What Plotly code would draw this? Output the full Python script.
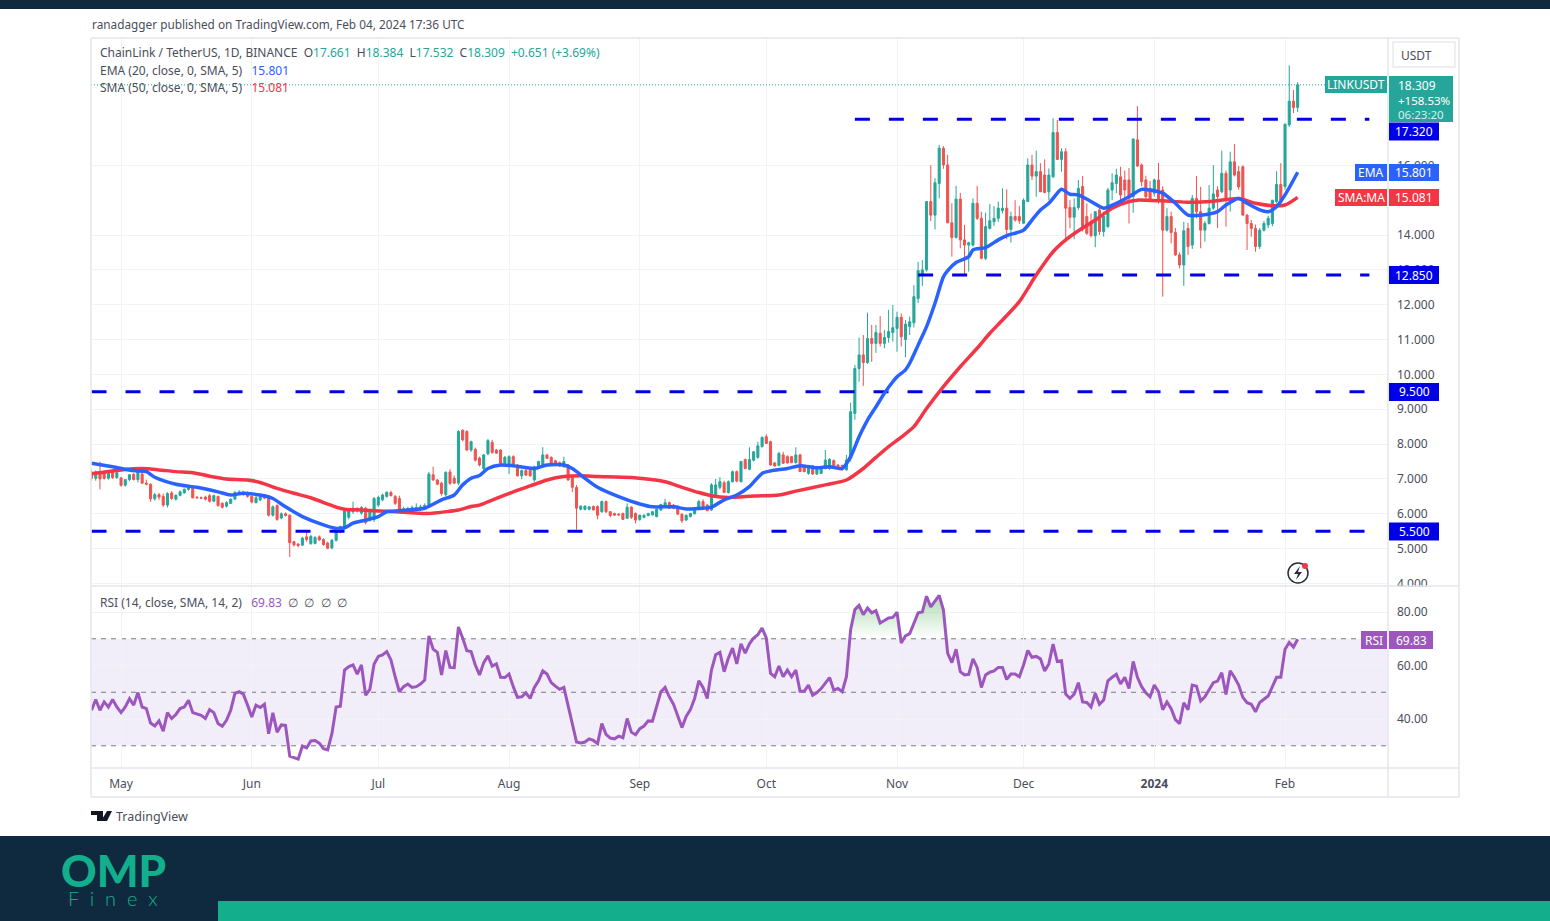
import pandas as pd
import plotly.graph_objects as go

W, H = 1550, 921

# daily candles, first one is 24 Apr 2023, last one 4 Feb 2024
first_day = "2023-04-24"

opens = [
    7.20,7.02,7.20,7.20,7.02,7.19,7.04,7.03,6.82,6.98,
    7.13,6.98,7.14,6.88,6.85,6.43,6.55,6.50,6.25,6.60,
    6.42,6.53,6.60,6.70,6.74,6.48,6.46,6.48,6.52,6.36,
    6.50,6.30,6.22,6.30,6.42,6.60,6.62,6.60,6.50,6.32,
    6.40,6.49,6.44,5.96,6.24,5.88,6.00,5.96,5.20,5.13,
    5.10,5.34,5.14,5.15,5.34,5.26,5.16,5.02,5.24,5.49,
    5.62,5.90,6.06,6.16,6.02,6.16,5.84,5.84,6.25,6.40,
    6.50,6.61,6.50,6.44,6.07,6.08,6.10,6.15,6.12,6.16,
    6.22,7.12,6.97,6.88,6.55,7.20,7.02,6.88,8.40,8.36,
    7.83,7.85,7.60,7.30,7.72,8.05,7.83,7.83,7.45,7.40,
    7.64,7.40,7.09,7.24,7.24,6.97,7.35,7.40,7.69,7.62,
    7.52,7.47,7.35,7.40,7.06,6.76,6.13,6.13,6.13,6.21,
    6.21,6.06,6.35,6.06,6.01,5.99,6.01,5.87,6.19,6.01,
    5.84,5.90,5.95,5.97,5.92,6.11,6.20,6.32,6.25,6.22,
    5.99,5.82,5.92,6.00,6.16,6.35,6.25,6.11,6.54,6.76,
    6.89,6.61,6.92,7.21,6.92,7.56,7.28,7.54,7.62,7.93,
    8.21,8.07,7.46,7.39,7.69,7.64,7.64,7.47,7.69,7.35,
    7.16,7.37,7.14,7.16,7.30,7.30,7.53,7.40,7.39,7.26,
    7.59,8.88,10.17,10.56,10.34,11.03,10.89,11.18,10.89,11.06,
    11.20,11.32,11.64,11.00,11.37,11.48,12.18,12.85,13.00,14.96,
    14.57,15.48,16.49,16.01,14.35,13.93,15.03,13.86,13.71,13.71,
    14.91,14.48,13.33,14.19,14.38,14.48,14.70,14.77,14.16,14.53,
    14.53,14.34,14.96,16.01,15.69,15.82,15.72,15.24,15.67,16.94,
    16.17,16.39,14.79,14.51,14.79,15.39,14.53,14.38,13.98,14.72,
    14.10,14.24,15.29,15.48,15.67,15.58,15.58,15.10,16.73,16.01,
    15.58,15.34,15.20,15.58,15.29,14.14,14.53,14.07,13.43,13.14,
    14.19,13.71,15.05,14.67,14.14,14.33,14.77,15.29,15.24,15.77,
    15.29,16.10,15.82,15.96,14.57,14.33,14.19,13.67,14.14,14.29,
    14.33,14.96,15.45,15.39,17.16,17.84,17.661,
]
highs = [
    7.26,7.24,7.50,7.24,7.22,7.22,7.22,7.06,7.00,7.14,
    7.18,7.24,7.20,6.98,6.87,6.60,6.60,6.58,6.62,6.65,
    6.56,6.67,6.73,6.78,6.78,6.50,6.50,6.52,6.57,6.55,
    6.52,6.33,6.36,6.44,6.66,6.68,6.66,6.64,6.53,6.50,
    6.52,6.54,6.48,6.24,6.27,6.04,6.04,5.98,5.22,5.16,
    5.34,5.48,5.40,5.36,5.38,5.30,5.20,5.28,5.52,5.66,
    6.16,6.15,6.35,6.18,6.22,6.20,6.10,6.48,6.52,6.58,
    6.64,6.66,6.54,6.52,6.20,6.20,6.24,6.30,6.26,6.30,
    7.20,7.35,7.00,6.92,7.22,7.28,7.10,8.40,8.42,8.40,
    8.10,7.90,7.64,7.72,8.15,8.12,7.86,7.86,7.66,7.68,
    7.68,7.43,7.27,7.28,7.28,7.38,7.52,7.91,7.72,7.65,
    7.55,7.50,7.64,7.43,7.10,6.83,6.24,6.24,6.22,6.24,
    6.24,6.38,6.38,6.08,6.03,6.02,6.03,6.30,6.22,6.04,
    5.97,5.98,6.03,6.08,6.15,6.28,6.43,6.35,6.28,6.24,
    6.01,5.98,6.03,6.17,6.40,6.42,6.28,6.88,7.00,7.05,
    6.95,6.96,7.24,7.24,7.52,7.58,7.91,7.80,8.07,8.22,
    8.28,8.10,7.48,7.78,7.78,7.68,7.66,7.91,7.72,7.38,
    7.40,7.40,7.30,7.36,7.83,7.60,7.56,7.42,7.41,7.69,
    9.19,10.27,11.06,11.13,11.77,11.42,11.42,11.67,11.27,11.85,
    11.99,11.80,11.75,11.56,11.66,12.56,13.23,13.28,14.96,16.00,
    15.63,16.58,16.55,16.30,14.91,15.41,15.21,14.29,13.81,15.05,
    15.41,14.67,14.64,14.89,14.83,14.96,15.34,15.31,14.67,15.00,
    14.83,15.05,16.20,16.30,16.42,16.06,16.17,15.91,17.35,17.30,
    16.49,16.49,15.00,15.05,15.58,15.69,14.91,14.62,14.67,14.80,
    14.67,15.35,15.77,15.90,15.96,15.85,15.92,16.78,17.70,16.05,
    15.70,15.55,15.62,16.07,15.40,14.77,14.67,14.20,13.50,14.38,
    14.35,15.15,15.69,15.38,14.40,15.43,16.00,15.40,16.42,15.85,
    16.39,16.61,15.98,16.00,14.60,14.43,14.30,14.20,14.40,14.55,
    15.00,15.83,16.06,17.20,18.87,18.16,18.384,
]
lows = [
    6.95,6.95,6.70,6.98,6.98,7.00,7.00,6.78,6.78,6.94,
    6.96,6.90,6.86,6.82,6.35,6.38,6.40,6.20,6.18,6.40,
    6.38,6.50,6.58,6.66,6.44,6.44,6.43,6.38,6.32,6.34,
    6.20,6.15,6.18,6.28,6.40,6.55,6.52,6.46,6.30,6.30,
    6.36,6.42,5.92,5.92,5.80,5.84,5.92,4.76,5.06,5.04,
    5.08,5.20,5.12,5.12,5.22,5.08,4.98,4.98,5.20,5.44,
    5.56,5.84,6.00,6.04,5.98,5.70,5.78,5.76,6.20,6.36,
    6.46,6.50,6.25,6.04,6.03,6.04,6.06,6.12,6.08,6.14,
    6.18,6.95,6.82,6.52,6.50,6.82,6.86,6.82,8.08,7.80,
    7.78,7.50,7.36,7.26,7.68,7.72,7.72,7.42,7.40,7.14,
    7.36,7.07,6.99,7.08,7.06,6.92,7.32,7.36,7.58,7.42,
    7.36,7.35,7.32,6.95,6.62,5.55,6.10,6.10,6.10,6.10,
    5.84,6.03,6.02,5.90,5.94,5.94,5.82,5.85,5.85,5.72,
    5.80,5.87,5.93,5.95,5.90,6.08,6.18,6.14,6.13,5.98,
    5.73,5.80,5.90,5.98,6.14,6.18,6.08,6.08,6.50,6.70,
    6.60,6.58,6.90,6.90,6.90,7.28,7.25,7.50,7.58,7.90,
    8.00,7.38,7.36,7.36,7.43,7.44,7.45,7.44,7.20,7.19,
    7.12,7.12,7.12,7.14,7.28,7.26,7.30,7.28,7.24,7.24,
    7.50,8.70,9.79,9.67,10.30,10.36,10.62,10.80,10.75,10.91,
    10.94,10.65,10.80,10.49,11.13,11.35,12.05,12.54,12.95,14.40,
    14.16,15.05,15.90,14.34,13.38,13.90,13.62,12.85,12.95,13.67,
    14.43,13.30,13.28,14.16,14.26,14.38,14.62,13.88,13.78,14.38,
    14.32,14.32,14.96,15.58,15.10,15.24,15.20,15.00,15.63,16.15,
    15.82,13.90,14.19,13.88,14.72,14.10,14.00,13.93,13.65,14.00,
    13.95,14.20,15.00,15.20,14.95,15.05,14.33,14.64,15.95,15.40,
    15.00,14.95,15.10,14.90,12.23,14.10,13.76,13.40,13.04,12.54,
    13.43,13.60,14.48,13.62,13.81,14.30,14.72,14.20,15.20,14.24,
    14.67,15.68,15.30,14.57,13.57,13.95,13.52,13.60,14.10,14.20,
    14.25,14.90,15.00,15.30,17.10,17.50,17.532,
]
closes = [
    7.02,7.20,7.00,7.02,7.19,7.04,7.18,6.82,6.98,7.12,
    6.98,7.20,6.88,6.85,6.43,6.55,6.48,6.25,6.58,6.44,
    6.53,6.63,6.70,6.76,6.46,6.46,6.45,6.42,6.36,6.52,
    6.24,6.19,6.32,6.42,6.61,6.62,6.55,6.50,6.34,6.46,
    6.49,6.45,5.96,6.20,5.84,6.00,5.95,5.17,5.11,5.09,
    5.30,5.26,5.35,5.32,5.25,5.12,5.01,5.24,5.49,5.63,
    6.09,6.08,6.16,6.08,6.18,5.75,6.06,6.44,6.47,6.54,
    6.62,6.52,6.30,6.07,6.14,6.15,6.18,6.18,6.20,6.24,
    7.14,6.97,6.85,6.58,7.19,6.87,6.88,8.36,8.12,7.83,
    8.07,7.54,7.40,7.69,8.10,7.76,7.74,7.45,7.62,7.64,
    7.40,7.09,7.24,7.11,7.09,7.35,7.50,7.69,7.59,7.45,
    7.40,7.38,7.50,6.97,6.76,6.16,6.22,6.22,6.20,6.11,
    5.96,6.35,6.06,5.95,5.96,5.97,5.84,6.19,5.90,5.82,
    5.96,5.96,6.01,6.06,6.13,6.27,6.32,6.16,6.16,5.99,
    5.80,5.96,6.01,6.16,6.35,6.20,6.09,6.83,6.83,6.92,
    6.61,6.92,7.21,6.94,7.50,7.30,7.56,7.78,7.95,8.19,
    8.02,7.40,7.37,7.73,7.45,7.46,7.47,7.69,7.21,7.21,
    7.38,7.14,7.28,7.35,7.54,7.56,7.32,7.30,7.27,7.54,
    8.93,10.17,10.56,10.34,11.03,10.89,11.20,10.89,11.06,11.23,
    11.34,11.64,11.08,11.44,11.51,12.23,12.98,13.00,14.96,14.57,
    15.50,16.49,16.01,14.35,13.93,15.03,13.86,13.71,13.78,14.91,
    14.48,13.33,14.24,14.41,14.48,14.77,14.77,14.16,14.53,14.43,
    14.41,15.00,16.01,15.69,15.82,15.24,15.22,15.72,16.94,16.17,
    16.39,14.77,14.51,14.79,15.34,14.24,14.05,13.98,14.67,14.10,
    14.53,15.29,15.50,15.72,15.15,15.29,15.05,16.75,15.98,15.53,
    15.10,15.00,15.58,15.00,14.14,14.53,14.07,13.43,13.14,14.12,
    13.67,15.05,14.67,14.14,14.33,14.77,15.18,15.10,15.77,15.00,
    16.10,15.72,15.38,14.57,14.33,14.19,13.67,14.14,14.33,14.48,
    15.00,15.45,15.00,17.18,17.84,17.66,18.309,
]

# moving averages read at these candle numbers
ema_idx = [0,5,10,13,15,20,25,30,33,36,41,43,46,50,55,58,60,62,65,68,70,73,79,83,86,88,90,92,94,
           97,100,105,108,112,114,117,120,125,130,133,138,141,145,147,150,153,156,159,161,165,168,
           172,175,178,180,182,184,186,188,190,191,193,194,196,198,200,202,203,205,208,209,212,215,
           217,221,223,225,227,229,230,232,234,237,240,243,246,249,251,254,257,260,263,267,269,272,
           274,277,279,281,283,286]
ema_vals = [7.45,7.35,7.24,7.21,7.05,6.85,6.76,6.63,6.54,6.59,6.52,6.44,6.20,5.92,5.68,5.58,5.60,5.73,5.82,5.92,6.06,6.09,6.16,6.40,6.54,6.83,7.02,7.10,7.30,
            7.40,7.38,7.30,7.40,7.40,7.30,7.02,6.76,6.49,6.28,6.20,6.20,6.14,6.16,6.19,6.40,6.54,6.78,7.16,7.23,7.30,7.38,
            7.32,7.35,7.30,7.64,8.21,8.69,9.07,9.46,9.79,9.93,10.13,10.32,10.84,11.37,12.04,12.80,12.98,13.21,13.38,13.57,13.64,13.86,
            13.98,14.14,14.43,14.72,14.91,15.20,15.31,15.17,15.15,14.96,14.77,14.91,15.10,15.31,15.29,15.20,14.91,14.57,14.57,14.67,14.86,15.05,
            14.91,14.72,14.67,14.81,15.15,15.801]
sma_idx = [0,7,12,16,20,24,28,32,37,40,44,48,52,56,58,60,64,68,72,76,80,84,87,90,92,96,100,104,108,112,116,120,128,136,
           140,144,147,151,157,163,167,174,179,183,186,189,192,195,198,202,206,210,213,216,220,224,228,231,234,238,242,246,248,251,256,
           260,266,272,276,280,283,286]
sma_vals = [7.15,7.26,7.30,7.26,7.21,7.18,7.08,7.00,6.97,6.90,6.73,6.59,6.46,6.28,6.19,6.13,6.11,6.08,6.06,6.03,6.01,6.06,6.11,6.21,6.25,6.44,6.63,6.80,6.97,7.07,7.09,7.07,7.04,6.92,
            6.76,6.61,6.52,6.47,6.51,6.54,6.65,6.83,6.97,7.30,7.62,7.93,8.20,8.50,9.02,9.65,10.22,10.75,11.18,11.56,12.09,12.85,13.52,13.86,14.12,14.43,14.77,14.96,15.00,14.99,14.97,
            14.94,14.97,15.05,14.91,14.84,14.86,15.081]

rsi_vals = [
    43.3,47.3,43.3,46.4,44.5,47.3,44.5,42.4,44.5,47.6,
    45.2,49.9,44.5,43.9,38.5,37.4,39.3,35.5,42.4,40.2,
    41.7,43.9,44.5,47.0,42.4,41.8,41.4,40.2,43.5,42.4,
    38.3,37.3,39.5,43.3,49.6,50.2,49.3,45.2,40.8,45.2,
    44.3,45.5,34.5,42.3,35.1,37.8,37.6,26.1,25.4,25.0,
    29.9,29.2,31.8,32.0,31.0,28.9,28.5,34.5,44.5,44.8,
    58.3,59.6,60.2,56.8,60.2,48.9,51.1,60.6,63.4,64.0,
    65.2,62.1,55.8,50.2,52.1,53.1,51.8,52.1,53.1,54.6,
    71.1,66.1,64.9,56.5,65.6,59.3,59.2,74.4,70.3,65.5,
    65.2,60.2,56.5,61.1,63.6,59.8,60.6,55.6,55.5,56.8,
    52.1,48.1,48.3,49.8,47.7,51.8,54.3,58.0,56.8,53.6,
    52.3,51.1,51.8,44.5,38.3,31.4,31.1,31.4,32.6,32.0,
    30.8,38.3,34.3,32.9,32.6,33.6,33.0,40.2,35.1,34.1,
    36.4,37.4,39.3,39.2,45.2,50.2,51.8,48.3,45.5,41.0,
    36.8,41.0,43.5,47.7,54.3,51.8,47.7,58.3,64.0,64.9,
    57.7,62.7,66.5,60.6,68.1,64.6,68.1,70.3,71.5,74.0,
    70.3,57.1,55.8,59.8,55.8,58.3,55.8,58.3,50.4,50.4,
    52.7,48.9,49.9,51.4,53.3,55.5,50.8,51.4,50.2,55.8,
    73.4,80.9,82.5,79.0,81.5,79.7,80.5,75.9,76.8,77.8,
    78.0,79.9,68.4,71.1,71.9,75.9,79.7,80.0,85.9,81.9,
    84.3,86.2,80.7,64.6,61.1,66.1,57.7,56.5,56.7,62.5,
    59.3,51.8,56.5,57.5,58.0,59.3,59.3,54.8,56.8,56.8,
    55.8,60.2,65.6,63.1,63.4,62.5,58.0,60.6,68.0,61.5,
    61.8,49.3,47.7,49.3,53.6,46.4,46.2,44.5,49.6,45.5,
    47.1,54.3,55.6,56.7,53.1,55.6,51.4,61.5,55.6,52.1,
    49.8,48.3,52.7,50.2,43.5,46.4,43.9,39.8,38.3,46.1,
    43.5,52.7,52.3,46.8,48.3,50.8,53.6,54.2,57.3,49.2,
    58.0,55.6,52.7,48.1,46.1,45.5,42.7,46.2,47.3,48.6,
    52.1,55.6,55.6,66.1,68.6,66.9,69.83,
]

# horizontal levels drawn on the chart, start and end are candle numbers
level_prices = [17.32, 12.85, 9.5, 5.5]
level_starts = [181, 196, 0, 0]
level_end = 303
level_labels = ["17.320", "12.850", "9.500", "5.500"]

price_ticks = [4, 5, 6, 7, 8, 9, 10, 11, 12, 13, 14, 16]
price_range = [3.957, 19.653]
rsi_ticks = [40, 60, 80]
rsi_levels = [70, 50, 30]
rsi_range = [21.7, 89.35]

month_days = ["2023-05-01", "2023-06-01", "2023-07-01", "2023-08-01", "2023-09-01", "2023-10-01",
              "2023-11-01", "2023-12-01", "2024-01-01", "2024-02-01"]
month_labels = ["May", "Jun", "Jul", "Aug", "Sep", "Oct", "Nov", "Dec", "<b>2024</b>", "Feb"]
x_range = ["2023-04-23 21:00", "2024-02-25 10:00"]

last_price = 18.309

UP = "#26a69a"
DOWN = "#ef5350"
BLUE = "#2962ff"
RED = "#f23645"
PURPLE = "#9c56bd"
LEVEL = "#0000e6"
TEXT = "#4a4e5a"
FONT = "Noto Sans"
NAVY = "#0f2a3e"
TEAL = "#13ae8c"


def px(x):
    return x / W


def py(y):
    return 1 - y / H


dates = pd.date_range(first_day, periods=len(closes), freq="D")

fig = go.Figure()

fig.add_trace(go.Candlestick(
    x=dates, open=opens, high=highs, low=lows, close=closes,
    increasing=dict(line=dict(color=UP, width=1), fillcolor=UP),
    decreasing=dict(line=dict(color=DOWN, width=1), fillcolor=DOWN),
    whiskerwidth=0, xaxis="x", yaxis="y", showlegend=False,
))

# last price dotted line
fig.add_trace(go.Scatter(x=x_range, y=[last_price, last_price], mode="lines",
                         line=dict(color=UP, width=1, dash="1px,2px"), showlegend=False))

for price, start in zip(level_prices, level_starts):
    fig.add_trace(go.Scatter(x=[dates[start], dates[0] + pd.Timedelta(days=level_end)], y=[price, price],
                             mode="lines", line=dict(color=LEVEL, width=3, dash="15px,19px"), showlegend=False))

fig.add_trace(go.Scatter(x=dates[sma_idx], y=sma_vals, mode="lines",
                         line=dict(color=RED, width=3.5, shape="spline", smoothing=0.7), showlegend=False))
fig.add_trace(go.Scatter(x=dates[ema_idx], y=ema_vals, mode="lines",
                         line=dict(color=BLUE, width=3.5, shape="spline", smoothing=0.7), showlegend=False))

# overbought fill above the 70 line
fig.add_trace(go.Scatter(x=dates, y=[rsi_levels[0]] * len(dates), mode="lines", line=dict(width=0),
                         xaxis="x2", yaxis="y2", showlegend=False))
fig.add_trace(go.Scatter(x=dates, y=[max(v, rsi_levels[0]) for v in rsi_vals], mode="lines", line=dict(width=0),
                         fill="tonexty",
                         fillgradient=dict(type="vertical", colorscale=[[0, "rgba(76,175,80,0)"], [1, "rgba(76,175,80,0.45)"]]),
                         xaxis="x2", yaxis="y2", showlegend=False))
fig.add_trace(go.Scatter(x=dates, y=rsi_vals, mode="lines", line=dict(color=PURPLE, width=3),
                         xaxis="x2", yaxis="y2", showlegend=False))

shapes = []
annos = []


def box(x0, y0, x1, y1, fill, line=None, layer="above"):
    shapes.append(dict(type="rect", xref="paper", yref="paper", x0=px(x0), x1=px(x1), y0=py(y0), y1=py(y1),
                       fillcolor=fill, line=dict(color=line or fill, width=1 if line else 0), layer=layer))


def poly(points, fill):
    d = "M" + " L".join(f"{px(a):.5f},{py(b):.5f}" for a, b in points) + " Z"
    shapes.append(dict(type="path", xref="paper", yref="paper", path=d, fillcolor=fill, line=dict(width=0), layer="above"))


def label(x, y, text, color=TEXT, size=12, anchor="left", family=FONT, weight="normal"):
    annos.append(dict(xref="paper", yref="paper", x=px(x), y=py(y), text=text, showarrow=False, xanchor=anchor,
                      yanchor="middle", align=anchor, borderpad=0,
                      font=dict(family=family, size=size, color=color, weight=weight)))


def tag(x0, x1, y0, y1, fill, text):
    box(x0, y0, x1, y1, fill)
    label((x0 + x1) / 2, (y0 + y1) / 2, text, color="#ffffff", size=12, anchor="center")


# page bands
box(0, 0, W, 9, NAVY)
box(0, 836, W, H, NAVY)
box(218, 901, W, H, TEAL)

# chart frame
EDGE = "#e3e6ed"
for x0, y0, x1, y1 in [(91, 38, 1459, 38), (91, 797, 1459, 797), (91, 38, 91, 797), (1459, 38, 1459, 797),
                       (1388, 38, 1388, 797), (91, 768, 1459, 768), (91, 586, 1459, 586)]:
    shapes.append(dict(type="line", xref="paper", yref="paper", x0=px(x0), x1=px(x1), y0=py(y0), y1=py(y1),
                       line=dict(color=EDGE, width=1.5), layer="above"))
# lower half of the 4.000 label is cut by the pane edge
box(1390, 587, 1458, 594, "#ffffff")

# RSI band and levels
shapes.append(dict(type="rect", xref="paper", yref="y2", x0=px(91), x1=px(1388), y0=rsi_levels[2], y1=rsi_levels[0],
                   fillcolor="rgba(126,87,194,0.1)", line=dict(width=0), layer="below"))
for lv in rsi_levels:
    shapes.append(dict(type="line", xref="paper", yref="y2", x0=px(91), x1=px(1388), y0=lv, y1=lv,
                       line=dict(color="#787b86", width=1, dash="5px,5px"), layer="below"))

# texts
label(91, 24, "ranadagger published on TradingView.com, Feb 04, 2024 17:36 UTC", size=11.8)
num = lambda s, c: f'<span style="color:{c}">{s}</span>'
label(99, 52, "ChainLink / TetherUS, 1D, BINANCE  O" + num("17.661", UP) + "  H" + num("18.384", UP) + "  L"
      + num("17.532", UP) + "  C" + num("18.309", UP) + "  " + num("+0.651 (+3.69%)", UP), size=12)
label(99, 70, "EMA (20, close, 0, SMA, 5)   " + num("15.801", BLUE), size=12)
label(99, 87, "SMA (50, close, 0, SMA, 5)   " + num("15.081", RED), size=12)
label(99, 602, "RSI (14, close, SMA, 14, 2)   " + num("69.83", PURPLE) + "  ∅  ∅  ∅  ∅", size=12)

# USDT button
shapes.append(dict(type="rect", xref="paper", yref="paper", x0=px(1393), x1=px(1455), y0=py(42), y1=py(67),
                   fillcolor="#ffffff", line=dict(color="#e8eaf0", width=1.5), layer="above"))
label(1416, 55, "USDT", anchor="center", size=12)

# price tags, the 17.320 tag sits below its line to clear the last price box
tag(1325, 1387, 76, 93, UP, "LINKUSDT")
box(1389, 76, 1453, 122, UP)
label(1397, 85, "18.309", color="#ffffff")
label(1397, 100, "+158.53%", color="#ffffff", size=11.5)
label(1397, 114, "06:23:20", color="#d7f0ec", size=11.5)
tag(1355, 1387, 164, 181, BLUE, "EMA")
tag(1389, 1439, 164, 181, BLUE, "15.801")
tag(1335, 1387, 189, 206, RED, "SMA:MA")
tag(1389, 1439, 189, 206, RED, "15.081")
for yc, text in zip([131.5, 275, 392, 531.5], level_labels):
    tag(1389, 1439, yc - 9, yc + 9, LEVEL, text)
tag(1361, 1387, 631, 649, PURPLE, "RSI")
tag(1389, 1433, 631, 649, PURPLE, "69.83")

# tradingview logo
poly([(91, 811), (103, 811), (103, 821), (97, 821), (97, 815), (91, 815)], "#131722")
poly([(107, 811), (112, 811), (107, 821), (101, 821)], "#131722")
label(115, 816, "TradingView", size=12.5)

# small bolt icon on the price pane
shapes.append(dict(type="circle", xref="paper", yref="paper", x0=px(1288), x1=px(1308), y0=py(563), y1=py(583),
                   fillcolor="#ffffff", line=dict(color="#2a2e39", width=1.5), layer="above"))
poly([(1300, 566), (1294, 574), (1298, 574), (1296, 580), (1302, 572), (1298, 572)], "#2a2e39")
shapes.append(dict(type="circle", xref="paper", yref="paper", x0=px(1302), x1=px(1308), y0=py(563), y1=py(569),
                   fillcolor=RED, line=dict(width=0), layer="above"))

# OMP Finex logo
label(113, 870, "OMP", color=TEAL, size=44, anchor="center", family="Lato", weight=900)
label(113, 898, "F  i  n  e  x", color=TEAL, size=20, anchor="center", family="Lato", weight=300)

fig.update_layout(
    width=W, height=H, autosize=False, margin=dict(l=0, r=0, t=0, b=0, autoexpand=False),
    paper_bgcolor="#ffffff", plot_bgcolor="#ffffff", showlegend=False,
    font=dict(family=FONT, size=12, color=TEXT),
    shapes=shapes, annotations=annos,
    xaxis=dict(domain=[px(91), px(1388)], range=x_range, type="date", anchor="y", rangeslider=dict(visible=False),
               tickvals=month_days, ticktext=[""] * len(month_days), showgrid=True, gridcolor="#f2f3f7", gridwidth=1,
               zeroline=False, showline=False, ticks=""),
    yaxis=dict(domain=[py(585), py(38)], range=price_range, side="right", anchor="x", tickvals=price_ticks,
               ticktext=[f"{v}.000" for v in price_ticks], showgrid=True, gridcolor="#f2f3f7", zeroline=False,
               ticks="", ticklabelstandoff=8, tickfont=dict(size=12, color=TEXT)),
    xaxis2=dict(domain=[px(91), px(1388)], range=x_range, type="date", anchor="y2", matches="x",
                tickvals=month_days, ticktext=month_labels, showgrid=True, gridcolor="#f2f3f7", zeroline=False,
                showline=False, ticks="", ticklabelstandoff=7, tickfont=dict(size=12, color=TEXT)),
    yaxis2=dict(domain=[py(768), py(587)], range=rsi_range, side="right", anchor="x2", tickvals=rsi_ticks,
                ticktext=[f"{v}.00" for v in rsi_ticks], showgrid=True, gridcolor="#f2f3f7", zeroline=False,
                ticks="", ticklabelstandoff=8, tickfont=dict(size=12, color=TEXT)),
)

fig.write_html("out.html", config={"displayModeBar": False},
               post_script="document.body.style.margin='0';document.body.style.overflow='hidden';")
